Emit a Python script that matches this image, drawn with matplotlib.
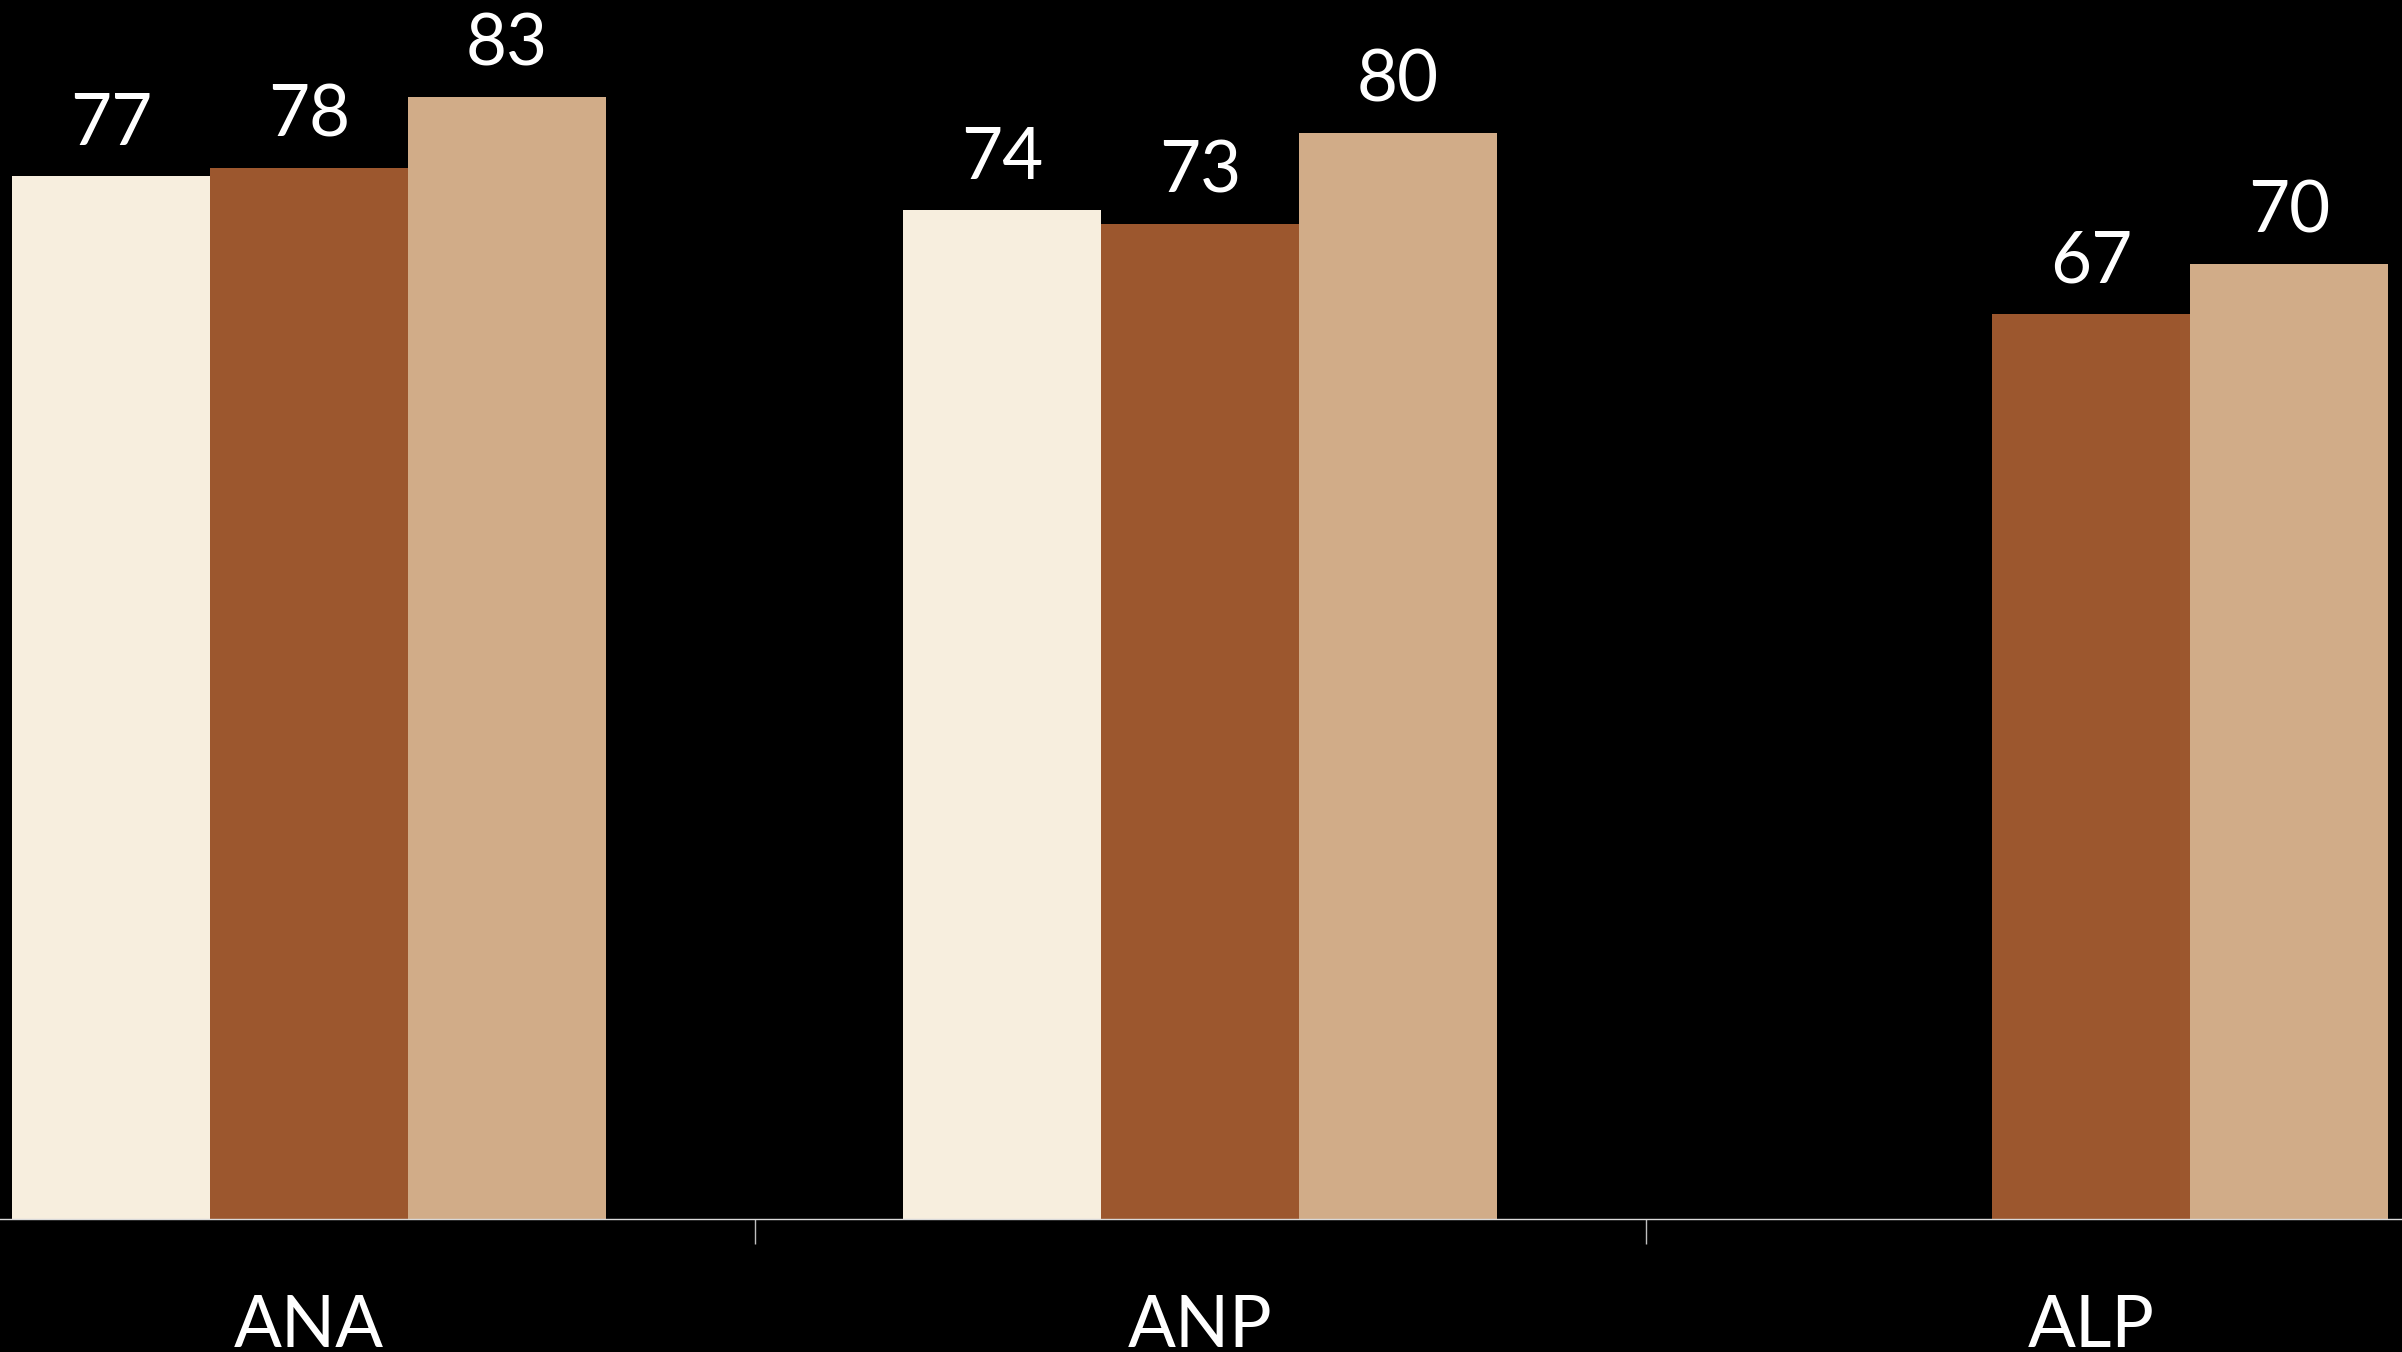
"""
Grouped bar chart: three series per group (ANA, ANP, ALP), dark background.
"""

import matplotlib
matplotlib.use("Agg")
import matplotlib.pyplot as plt
import numpy as np

# data (bar heights, labels as printed on the bars)
categories = ["ANA", "ANP", "ALP"]
series_1 = [77.1, 74.6, np.nan]   # cream, missing for ALP
series_2 = [77.7, 73.6, 66.9]     # brown
series_3 = [83.0, 80.3, 70.6]     # tan
labels_1 = ["77", "74", ""]
labels_2 = ["78", "73", "67"]
labels_3 = ["83", "80", "70"]

colors = ["#F7EEDE", "#9C572E", "#D1AC88"]

plt.rcParams["font.family"] = ["Lato", "DejaVu Sans"]


def draw_chart():
    fig = plt.figure(figsize=(24.02, 13.52), dpi=100, facecolor="black")
    # axes runs past the left / right edge of the figure (cropped chart)
    ax = fig.add_axes([0.0, 0.0984, 1.0, 0.9001])
    ax.set_facecolor("black")

    x = np.arange(len(categories))
    width = 0.2222
    all_series = [series_1, series_2, series_3]
    all_labels = [labels_1, labels_2, labels_3]

    for i, (vals, labs, col) in enumerate(zip(all_series, all_labels, colors)):
        offset = (i - 1) * width
        bars = ax.bar(x + offset, vals, width, color=col, linewidth=0, zorder=2)
        # value labels on top of each bar
        for bar, v, lab in zip(bars, vals, labs):
            if np.isnan(v):
                continue
            ax.annotate(lab,
                        xy=(bar.get_x() + bar.get_width() / 2, v),
                        xytext=(0, 14), textcoords="offset points",
                        ha="center", va="bottom",
                        fontsize=51, color="white")

    ax.set_xlim(-0.347, 2.349)
    ax.set_ylim(0, 90)

    # axis styling
    for side in ["left", "right", "top"]:
        ax.spines[side].set_visible(False)
    ax.spines["bottom"].set_color("#D9D9D9")
    ax.spines["bottom"].set_linewidth(1.0)
    ax.spines["bottom"].set_zorder(3)

    ax.set_yticks([])
    ax.set_xticks(x)
    ax.set_xticklabels(categories, fontsize=51, color="white")
    ax.set_xticks([0.5, 1.5], minor=True)
    ax.tick_params(axis="x", which="major", length=0, pad=54)
    ax.tick_params(axis="x", which="minor", length=18, width=1.0,
                   color="#BFBFBF", direction="out")

    fig.savefig("out.png", dpi=100, facecolor="black")


if __name__ == "__main__":
    draw_chart()
